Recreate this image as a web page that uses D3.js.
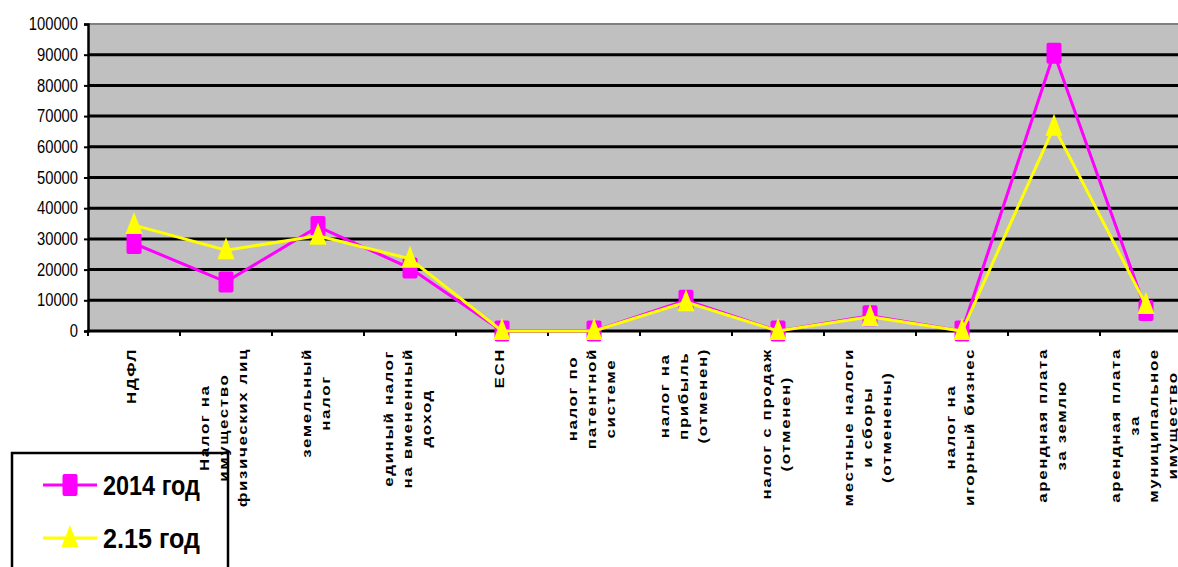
<!DOCTYPE html>
<html>
<head>
<meta charset="utf-8">
<script src="https://d3js.org/d3.v7.min.js"></script>
<style>
  body { margin: 0; background: #fff; }
  svg { display: block; }
</style>
</head>
<body>
<svg width="1178" height="567"></svg>
<script>
// данные
var categories = [
  ["НДФЛ"],
  ["Налог на", "имущество", "физических лиц"],
  ["земельный", "налог"],
  ["единый налог", "на вмененный", "доход"],
  ["ЕСН"],
  ["налог по", "патентной", "системе"],
  ["налог на", "прибыль", "(отменен)"],
  ["налог с продаж", "(отменен)"],
  ["местные налоги", "и сборы", "(отменены)"],
  ["налог на", "игорный бизнес"],
  ["арендная плата", "за землю"],
  ["арендная плата", "за", "муниципальное", "имущество"]
];
var values2014 = [28500, 16000, 34000, 20500, 0, 0, 10000, 0, 5000, 0, 90500, 6700];
var values2015 = [34500, 26300, 31000, 23500, 0, 0, 9400, 0, 4600, 0, 66500, 8500];
var yTicks = [0, 10000, 20000, 30000, 40000, 50000, 60000, 70000, 80000, 90000, 100000];
var seriesNames = ["2014 год", "2.15 год"];

var svg = d3.select('svg');
var plotLeft = 88, plotTop = 24, plotBottom = 331, step = 92;
var plotRight = plotLeft + step * categories.length;

var x = d3.scaleBand()
  .domain(d3.range(categories.length))
  .range([plotLeft, plotRight]);

var y = d3.scaleLinear()
  .domain([0, 100000])
  .range([plotBottom, plotTop]);

// фон
svg.append('rect')
  .attr('x', plotLeft).attr('y', plotTop)
  .attr('width', plotRight - plotLeft).attr('height', plotBottom - plotTop)
  .attr('fill', '#c0c0c0');

// сетка
svg.append('g')
  .selectAll('line')
  .data(yTicks.filter(d => d > 0 && d < 100000))
  .enter()
  .append('line')
    .attr('x1', plotLeft).attr('x2', plotRight)
    .attr('y1', d => y(d)).attr('y2', d => y(d))
    .attr('stroke', '#000')
    .attr('stroke-width', 3);

svg.append('line')
  .attr('x1', plotLeft).attr('x2', plotRight)
  .attr('y1', y(100000)).attr('y2', y(100000))
  .attr('stroke', '#808080')
  .attr('stroke-width', 2);

// ось Y
var yAxis = svg.append('g')
  .attr('transform', 'translate(' + plotLeft + ',0)')
  .call(d3.axisLeft(y).tickValues(yTicks).tickSize(4).tickPadding(6).tickFormat(d3.format('d')));
yAxis.select('.domain').attr('stroke', '#000').attr('stroke-width', 2.5);
yAxis.selectAll('.tick line').attr('stroke', '#000').attr('stroke-width', 2);
yAxis.selectAll('text')
  .attr('font-family', 'Arial, "Liberation Sans", sans-serif')
  .attr('font-size', 17.5)
  .attr('fill', '#000')
  .attr('lengthAdjust', 'spacingAndGlyphs')
  .attr('textLength', d => String(d).length * 8.2);

// ось X
var xAxisG = svg.append('g');
xAxisG.append('line')
  .attr('x1', plotLeft - 1).attr('x2', plotRight)
  .attr('y1', plotBottom).attr('y2', plotBottom)
  .attr('stroke', '#000').attr('stroke-width', 3);
xAxisG.selectAll('.tk')
  .data(d3.range(categories.length + 1))
  .enter()
  .append('line')
    .attr('x1', d => plotLeft + d * x.step()).attr('x2', d => plotLeft + d * x.step())
    .attr('y1', plotBottom).attr('y2', plotBottom + 5)
    .attr('stroke', '#000').attr('stroke-width', 2);

// легенда (рамка)
var lg = svg.append('g');
lg.append('rect')
  .attr('x', 12).attr('y', 453)
  .attr('width', 216).attr('height', 130)
  .attr('fill', '#fff')
  .attr('stroke', '#000').attr('stroke-width', 2.5);

// подписи категорий (растянуты вдоль строки, как в исходнике)
var labelTop = 348, lineGap = 19, stretch = 1.25;
categories.forEach(function(lines, i) {
  var g = svg.append('g');
  var cx = x(i) + x.bandwidth() / 2;
  var texts = g.selectAll('text')
    .data(lines)
    .enter()
    .append('text')
      .attr('font-family', 'Arial, "Liberation Sans", sans-serif')
      .attr('font-weight', 'bold')
      .attr('font-size', 13.5)
      .attr('letter-spacing', 1.3)
      .attr('text-anchor', 'middle')
      .attr('fill', '#000')
      .text(d => d);
  var maxLen = d3.max(texts.nodes(), n => n.getComputedTextLength()) * stretch;
  var cy = labelTop + maxLen / 2;
  texts.attr('transform', function(d, j) {
    var lx = cx + (j - (lines.length - 1) / 2) * lineGap + 2;
    return 'translate(' + lx + ',' + cy + ') rotate(-90) scale(' + stretch + ',1)';
  });
});

// линии
var line = d3.line()
  .x((d, i) => x(i) + x.bandwidth() / 2)
  .y(d => y(d));

svg.append('path')
  .datum(values2014)
  .attr('d', line)
  .attr('fill', 'none')
  .attr('stroke', '#ff00ff')
  .attr('stroke-width', 3);

svg.append('g')
  .selectAll('rect')
  .data(values2014)
  .enter()
  .append('rect')
    .attr('x', (d, i) => x(i) + x.bandwidth() / 2 - 7.5)
    .attr('y', d => y(d) - 10.5)
    .attr('width', 15).attr('height', 21)
    .attr('rx', 2)
    .attr('fill', '#ff00ff');

svg.append('path')
  .datum(values2015)
  .attr('d', line)
  .attr('fill', 'none')
  .attr('stroke', '#ffff00')
  .attr('stroke-width', 3);

var tri = 'M0,-13L8.5,9L-8.5,9Z';
svg.append('g')
  .selectAll('path')
  .data(values2015)
  .enter()
  .append('path')
    .attr('d', tri)
    .attr('transform', (d, i) => 'translate(' + (x(i) + x.bandwidth() / 2) + ',' + y(d) + ')')
    .attr('fill', '#ffff00');

// легенда (элементы)
var legendY = [485, 538];
var legendColors = ['#ff00ff', '#ffff00'];
seriesNames.forEach(function(name, i) {
  lg.append('line')
    .attr('x1', 43).attr('x2', 97)
    .attr('y1', legendY[i]).attr('y2', legendY[i])
    .attr('stroke', legendColors[i]).attr('stroke-width', 3);
  if (i === 0) {
    lg.append('rect')
      .attr('x', 62.5).attr('y', legendY[i] - 11)
      .attr('width', 15).attr('height', 22)
      .attr('rx', 2)
      .attr('fill', legendColors[i]);
  } else {
    lg.append('path')
      .attr('d', tri)
      .attr('transform', 'translate(70,' + legendY[i] + ')')
      .attr('fill', legendColors[i]);
  }
  lg.append('text')
    .attr('x', 103).attr('y', legendY[i] + 10)
    .attr('font-family', 'Arial, "Liberation Sans", sans-serif')
    .attr('font-weight', 'bold')
    .attr('font-size', 28)
    .attr('fill', '#000')
    .attr('lengthAdjust', 'spacingAndGlyphs')
    .attr('textLength', 97)
    .text(name);
});
</script>
</body>
</html>
